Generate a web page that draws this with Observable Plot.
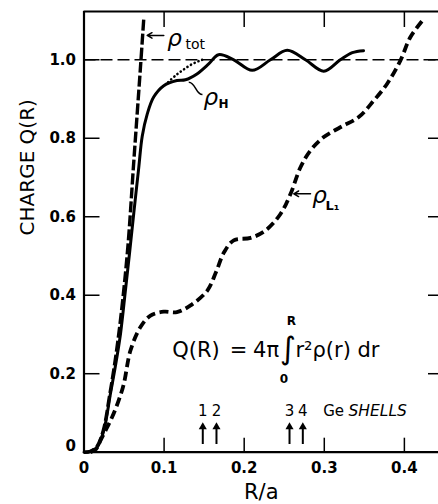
<!DOCTYPE html>
<html><head><meta charset="utf-8">
<script src="https://cdn.jsdelivr.net/npm/d3@7"></script>
<script src="https://cdn.jsdelivr.net/npm/@observablehq/plot@0.6"></script>
<style>
body{margin:0;background:#fff;}
#chart svg{display:block;background:#fff;}
</style>
</head><body><div id="chart"></div>
<script>
// tick values
const xTicks = [0, 0.1, 0.2, 0.3, 0.4];
const yTicks = [0.2, 0.4, 0.6, 0.8, 1.0];
// Ge shell radii
const shellR = [0.1483, 0.1654, 0.2566, 0.2732];
const shellLabels = ["1", "2", "3", "4"];

// rho_tot (long dashed)
const totR = [0, 0.008, 0.016, 0.024, 0.032, 0.039, 0.046, 0.0547, 0.0622, 0.0705, 0.0747];
const totQ = [0, 0.002, 0.014, 0.055, 0.145, 0.235, 0.345, 0.522, 0.742, 0.981, 1.107];

// rho_H (solid)
const hR = [0, 0.008, 0.0165, 0.0247, 0.033, 0.039, 0.0456, 0.0518, 0.057, 0.0622, 0.0684, 0.0727, 0.079, 0.087, 0.0996, 0.116, 0.1267, 0.141, 0.156, 0.168, 0.187, 0.21, 0.2328, 0.2537, 0.2765, 0.2994, 0.320, 0.335, 0.349];
const hQ = [0, 0.002, 0.013, 0.055, 0.149, 0.217, 0.302, 0.414, 0.51, 0.61, 0.726, 0.805, 0.862, 0.905, 0.934, 0.947, 0.949, 0.964, 0.990, 1.013, 1.000, 0.973, 1.000, 1.024, 1.000, 0.971, 1.000, 1.018, 1.023];

// dotted continuation of rho_H
const dotR = [0.105, 0.115, 0.125, 0.135, 0.145, 0.152];
const dotQ = [0.943, 0.961, 0.976, 0.989, 0.998, 1.003];

// rho_L1 (short dashed)
const l1R = [0.008, 0.015, 0.0206, 0.028, 0.035, 0.043, 0.0497, 0.058, 0.0705, 0.083, 0.0996, 0.116, 0.133, 0.154, 0.165, 0.175, 0.187, 0.208, 0.2266, 0.2453, 0.2578, 0.2703, 0.2828, 0.2994, 0.320, 0.343, 0.3618, 0.3785, 0.395, 0.4076, 0.4242];
const l1Q = [0, 0.008, 0.030, 0.060, 0.089, 0.13, 0.174, 0.259, 0.319, 0.348, 0.358, 0.357, 0.374, 0.412, 0.46, 0.51, 0.540, 0.546, 0.565, 0.607, 0.658, 0.726, 0.769, 0.803, 0.828, 0.854, 0.896, 0.939, 0.998, 1.058, 1.104];

const pts = (rs, qs) => rs.map((r, i) => ({r, q: qs[i]}));
const yMax = 1.123;
const F = "DejaVu Sans";

const chart = Plot.plot({
  width: 438,
  height: 504,
  marginLeft: 83.5,
  marginRight: 0,
  marginTop: 11,
  marginBottom: 52.3,
  style: {fontFamily: F, color: "#000", background: "#fff"},
  x: {domain: [0, 0.4426]},
  y: {domain: [0, yMax]},
  marks: [
    Plot.ruleY([1], {stroke: "#000", strokeWidth: 1.6, strokeDasharray: "12,5"}),
    Plot.line(pts(l1R, l1Q), {x: "r", y: "q", curve: "catmull-rom", stroke: "#000", strokeWidth: 3.8, strokeDasharray: "9,4.5", strokeLinecap: "butt"}),
    Plot.line(pts(totR, totQ), {x: "r", y: "q", curve: "catmull-rom", stroke: "#000", strokeWidth: 3.4, strokeDasharray: "11,3", strokeLinecap: "butt"}),
    Plot.line(pts(hR, hQ), {x: "r", y: "q", curve: "catmull-rom", stroke: "#000", strokeWidth: 3}),
    Plot.line(pts(dotR, dotQ), {x: "r", y: "q", curve: "catmull-rom", stroke: "#000", strokeWidth: 2.6, strokeDasharray: "0.1,4", strokeLinecap: "round"}),
    // frame
    Plot.ruleX([0], {stroke: "#000", strokeWidth: 2.2}),
    Plot.ruleY([0, yMax], {stroke: "#000", strokeWidth: 2.2}),
    // inward ticks
    Plot.axisX({ticks: xTicks.slice(1), anchor: "bottom", tickSize: 14, dy: -14, fill: "none", label: null, strokeWidth: 1.5}),
    Plot.axisX({ticks: xTicks.slice(1), anchor: "top", tickSize: 15, dy: 15, fill: "none", label: null, strokeWidth: 1.5}),
    Plot.axisY({ticks: yTicks, anchor: "left", tickSize: 16, dx: 16, fill: "none", label: null, strokeWidth: 1.5}),
    Plot.axisY({ticks: yTicks, anchor: "right", tickSize: 11, dx: -11, fill: "none", label: null, strokeWidth: 1.5}),
    // tick labels
    Plot.axisX({ticks: xTicks, anchor: "bottom", tickSize: 0, tickPadding: 10, label: null, tickFormat: d => d === 0 ? "0" : d.toFixed(1), fontSize: 15, fontWeight: "bold"}),
    Plot.axisY({ticks: yTicks, anchor: "left", tickSize: 0, tickPadding: 8, label: null, tickFormat: d => d.toFixed(1), fontSize: 15, fontWeight: "bold"}),
    Plot.text([0], {x: 0, y: d => d, text: () => "0", textAnchor: "end", dx: -8, dy: -6, fontSize: 15, fontWeight: "bold"}),
    // axis titles
    Plot.text(["R/a"], {frameAnchor: "bottom", lineAnchor: "bottom", dy: 46.5, fontSize: 21}),
    Plot.text(["CHARGE Q(R)"], {frameAnchor: "left", rotate: -90, dx: -56, dy: 3.6, fontSize: 20}),
    // curve labels
    Plot.arrow([0], {x1: 0.0996, x2: 0.0789, y1: 1.062, y2: 1.062, stroke: "#000", strokeWidth: 1.5, headLength: 6}),
    Plot.text(["ρ"], {x: 0.104, y: 1.036, lineAnchor: "bottom", textAnchor: "start", fontSize: 23, fontStyle: "italic"}),
    Plot.text(["tot"], {x: 0.1267, y: 1.0285, lineAnchor: "bottom", textAnchor: "start", fontSize: 14}),
    Plot.link([0], {x1: 0.1308, y1: 0.9429, x2: 0.1479, y2: 0.9113, curve: "bump-x", stroke: "#000", strokeWidth: 1.5}),
    Plot.text(["ρ"], {x: 0.1492, y: 0.886, lineAnchor: "bottom", textAnchor: "start", fontSize: 23, fontStyle: "italic"}),
    Plot.text(["H"], {x: 0.1679, y: 0.878, lineAnchor: "bottom", textAnchor: "start", fontSize: 12, fontWeight: "bold"}),
    Plot.arrow([0], {x1: 0.2828, x2: 0.2619, y1: 0.6585, y2: 0.6585, stroke: "#000", strokeWidth: 1.5, headLength: 6}),
    Plot.text(["ρ"], {x: 0.2849, y: 0.634, lineAnchor: "bottom", textAnchor: "start", fontSize: 23, fontStyle: "italic"}),
    Plot.text(["L₁"], {x: 0.3015, y: 0.616, lineAnchor: "bottom", textAnchor: "start", fontSize: 13, fontWeight: "bold"}),
    // formula
    Plot.text(["Q(R)"], {x: 0.1101, y: 0.242, lineAnchor: "bottom", textAnchor: "start", fontSize: 21}),
    Plot.text(["="], {x: 0.193, y: 0.242, lineAnchor: "bottom", textAnchor: "middle", fontSize: 21}),
    Plot.text(["4π"], {x: 0.2435, y: 0.242, lineAnchor: "bottom", textAnchor: "end", fontSize: 21}),
    Plot.text(["∫"], {x: 0.2545, y: 0.262, lineAnchor: "middle", textAnchor: "middle", fontSize: 31}),
    Plot.text(["R"], {x: 0.259, y: 0.333, lineAnchor: "middle", textAnchor: "middle", fontSize: 12, fontWeight: "bold"}),
    Plot.text(["0"], {x: 0.2495, y: 0.187, lineAnchor: "middle", textAnchor: "middle", fontSize: 12, fontWeight: "bold"}),
    Plot.text(["r²ρ(r) dr"], {x: 0.264, y: 0.242, lineAnchor: "bottom", textAnchor: "start", fontSize: 21}),
    // shells
    Plot.ruleX(shellR, {x: d => d, y1: 0.0196, y2: 0.066, stroke: "#000", strokeWidth: 2}),
    Plot.dot(shellR, {x: d => d, y: 0.0645, symbol: "triangle", r: 3, fill: "#000", stroke: "none"}),
    Plot.text(shellR, {x: d => d, y: 0.0917, text: (d, i) => shellLabels[i], lineAnchor: "bottom", textAnchor: "middle", fontSize: 15}),
    Plot.text(["Ge"], {x: 0.2986, y: 0.0917, lineAnchor: "bottom", textAnchor: "start", fontSize: 15}),
    Plot.text(["SHELLS"], {x: 0.3302, y: 0.0917, lineAnchor: "bottom", textAnchor: "start", fontSize: 15.5, fontStyle: "italic"})
  ]
});
document.getElementById("chart").append(chart);
</script>
</body></html>
